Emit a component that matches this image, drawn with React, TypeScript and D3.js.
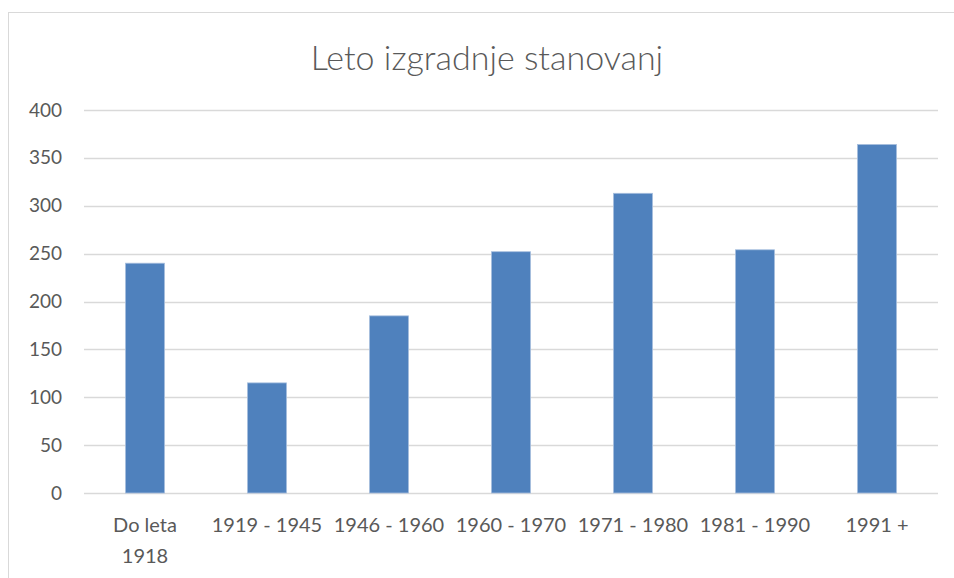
import React, { useEffect, useRef } from "react";
import * as d3 from "d3";

const categories = ["Do leta 1918", "1919 - 1945", "1946 - 1960", "1960 - 1970", "1971 - 1980", "1981 - 1990", "1991 +"];
const categoryLines = [["Do leta", "1918"], ["1919 - 1945"], ["1946 - 1960"], ["1960 - 1970"], ["1971 - 1980"], ["1981 - 1990"], ["1991 +"]];
const values = [240, 115, 185, 252, 313, 254, 364];
const yTicks = [0, 50, 100, 150, 200, 250, 300, 350, 400];
const title = "Leto izgradnje stanovanj";

const W = 954;
const H = 578;
const FONT = "Lato, 'Open Sans', sans-serif";
const TEXT = "#595959";

const App = () => {
  const svgRef = useRef<SVGSVGElement>(null);

  useEffect(() => {
    const svg = d3.select(svgRef.current);
    svg.selectAll("*").remove();

    const margin = { left: 84, right: 16, top: 110, bottom: 85 };

    // chart frame
    svg
      .append("rect")
      .attr("x", 8.5)
      .attr("y", 12.5)
      .attr("width", W)
      .attr("height", H)
      .attr("fill", "white")
      .attr("stroke", "#d9d9d9");

    const x = d3.scaleBand().domain(categories).range([margin.left, W - margin.right]).paddingInner(0.68).paddingOuter(0.34);
    const y = d3.scaleLinear().domain([0, 400]).range([H - margin.bottom, margin.top]);

    // gridlines
    svg
      .append("g")
      .selectAll("line")
      .data(yTicks)
      .enter()
      .append("line")
      .attr("x1", margin.left)
      .attr("x2", W - margin.right)
      .attr("y1", d => Math.round(y(d)) + 0.5)
      .attr("y2", d => Math.round(y(d)) + 0.5)
      .attr("stroke", "#d9d9d9")
      .attr("stroke-width", 1.3);

    // y tick labels
    svg
      .append("g")
      .selectAll("text")
      .data(yTicks)
      .enter()
      .append("text")
      .attr("x", 62)
      .attr("y", d => y(d) + 6.5)
      .attr("text-anchor", "end")
      .style("font-family", FONT)
      .style("font-size", "19px")
      .attr("fill", TEXT)
      .text(d => d);

    // bars
    svg
      .append("g")
      .selectAll("rect")
      .data(values)
      .enter()
      .append("rect")
      .attr("x", (d, i) => x(categories[i])!)
      .attr("y", d => y(d))
      .attr("width", x.bandwidth())
      .attr("height", d => y(0) - y(d))
      .attr("fill", "#4f81bd")
      .attr("stroke", "#a7bfde")
      .attr("stroke-width", 0.8);

    // category labels
    const lab = svg
      .append("g")
      .selectAll("text")
      .data(categoryLines)
      .enter()
      .append("text")
      .attr("x", (d, i) => x(categories[i])! + x.bandwidth() / 2)
      .attr("y", 532)
      .attr("text-anchor", "middle")
      .style("font-family", FONT)
      .style("font-size", "20px")
      .attr("fill", TEXT);
    lab
      .selectAll("tspan")
      .data(d => d)
      .enter()
      .append("tspan")
      .attr("x", function () {
        return (this as any).parentNode.getAttribute("x");
      })
      .attr("dy", (d, i) => (i === 0 ? 0 : 31))
      .text(d => d);

    // title
    svg
      .append("text")
      .attr("x", 487)
      .attr("y", 70)
      .attr("text-anchor", "middle")
      .style("font-family", FONT)
      .style("font-size", "34px")
      .style("font-weight", 300)
      .attr("fill", TEXT)
      .text(title);
  }, []);

  return (
    <svg
      ref={svgRef}
      width={W}
      height={H}
      style={{ position: "absolute", left: 0, top: 0, display: "block" }}
    />
  );
};

export default App;
